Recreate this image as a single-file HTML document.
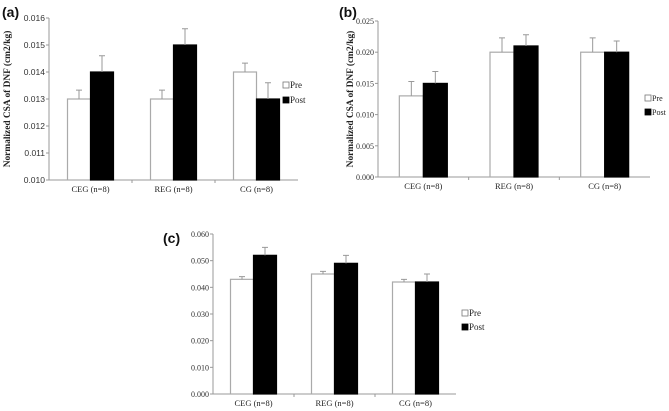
<!DOCTYPE html>
<html><head><meta charset="utf-8"><style>
html,body{margin:0;padding:0;background:#fff;width:669px;height:411px;overflow:hidden}
svg{display:block}
</style></head><body>
<svg id="fig" width="669" height="411" xmlns="http://www.w3.org/2000/svg"></svg>
<script>
const categories = ["CEG (n=8)", "REG (n=8)", "CG (n=8)"];
const seriesNames = ["Pre", "Post"];
const aPre = [0.013, 0.013, 0.014];
const aPost = [0.014, 0.015, 0.013];
const aPreErr = [0.00033, 0.00033, 0.00033];
const aPostErr = [0.0006, 0.0006, 0.0006];
const aTicks = ["0.010","0.011","0.012","0.013","0.014","0.015","0.016"];
const bPre = [0.013, 0.020, 0.020];
const bPost = [0.015, 0.021, 0.020];
const bPreErr = [0.0023, 0.0023, 0.0023];
const bPostErr = [0.0019, 0.0018, 0.0018];
const bTicks = ["0.000","0.005","0.010","0.015","0.020","0.025"];
const cPre = [0.043, 0.045, 0.042];
const cPost = [0.052, 0.049, 0.042];
const cPreErr = [0.001, 0.001, 0.001];
const cPostErr = [0.003, 0.003, 0.003];
const cTicks = ["0.000","0.010","0.020","0.030","0.040","0.050","0.060"];

const NS="http://www.w3.org/2000/svg";
const svg=document.getElementById('fig');
function mk(tag,attrs,parent,text){const e=document.createElementNS(NS,tag);for(const k in attrs)e.setAttribute(k,attrs[k]);if(text!==undefined)e.textContent=text;(parent||svg).appendChild(e);return e;}

function panel(o){
  const g=mk('g',{});
  
  
  const tmin=parseFloat(o.ticks[0]),tmax=parseFloat(o.ticks[o.ticks.length-1]);
  const y=v=>o.y0-(v-tmin)/(tmax-tmin)*(o.y0-o.y1);
  const gw=(o.x1-o.x0)/categories.length;
  const tl=mk('text',{x:o.lx,y:o.ly,'font-family':'Liberation Sans, sans-serif','font-size':14,'font-weight':'bold',fill:'#111'},g,'('+o.id+')');
  
  
  o.ticks.forEach(t=>{
    const v=parseFloat(t),yy=y(v);
    const tt=mk('text',{x:o.x0-4,y:yy+3,'text-anchor':'end','font-family':o.tickFont,'font-size':o.tickSize,fill:'#333'},g,t);
    
    
    mk('line',{x1:o.x0-3,x2:o.x0,y1:yy,y2:yy,stroke:'#999','stroke-width':1},g);
  });
  const ya=mk('line',{x1:o.x0,x2:o.x0,y1:o.y1,y2:o.y0,stroke:'#999','stroke-width':1},g);
  
  
  const xa=mk('line',{x1:o.x0,x2:o.x1,y1:o.y0,y2:o.y0,stroke:'#999','stroke-width':1},g);
  
  
  categories.forEach((c,i)=>{
    const cx=o.x0+(i+0.5)*gw;
    const lab=mk('text',{x:cx,y:o.y0+12,'text-anchor':'middle','font-family':'Liberation Serif, serif','font-size':8.5,fill:'#222'},g,c);
    
    
    if(i>0) mk('line',{x1:o.x0+i*gw,x2:o.x0+i*gw,y1:o.y0,y2:o.y0+3,stroke:'#999'},g);
    [[o.pre,o.preErr,cx-o.bw,'#fff','#aaa','pre'],[o.post,o.postErr,cx,'#000','#000','post']].forEach(s=>{
      const v=s[0][i],top=y(v);
      const r=mk('rect',{x:s[2],y:top,width:o.bw,height:o.y0-top,fill:s[3],stroke:s[4],'stroke-width':1.2},g);
      
      
      const et=y(v+s[1][i]),ex=s[2]+o.bw/2;
      const e=mk('path',{d:`M${ex},${top} V${et} M${ex-3},${et} H${ex+3}`,stroke:'#999','stroke-width':1,fill:'none'},g);
      
      
    });
  });
  seriesNames.forEach((n,k)=>{
    const ly=o.legY+k*o.legGap;
    const sq=mk('rect',{x:o.legX,y:ly-6,width:6,height:6,fill:k?'#000':'#fff',stroke:k?'#000':'#777','stroke-width':0.8},g);
    
    
    const lt=mk('text',{x:o.legX+7,y:ly,'font-family':'Liberation Serif, serif','font-size':o.legSize,fill:'#222'},g,n);
    
    
  });
  if(o.title){
    const cy=(o.y0+o.y1)/2;
    const t=mk('text',{x:o.tx,y:cy,'text-anchor':'middle','font-family':'Liberation Serif, serif','font-size':9.4,'font-weight':'bold',fill:'#222',transform:`rotate(-90 ${o.tx} ${cy})`},g,'Normalized  CSA of DNF (cm2/kg)');
    
    
  }
}
panel({id:'a',x0:49,x1:298,y0:180,y1:18,bw:23,ticks:aTicks,pre:aPre,post:aPost,preErr:aPreErr,postErr:aPostErr,
  tickFont:'Liberation Sans, sans-serif',tickSize:8.5,lx:2,ly:17,legX:283,legY:88,legGap:15,legSize:9,title:true,tx:10});
panel({id:'b',x0:378,x1:650,y0:177,y1:21,bw:24,ticks:bTicks,pre:bPre,post:bPost,preErr:bPreErr,postErr:bPostErr,
  tickFont:'Liberation Serif, serif',tickSize:8,lx:339,ly:17,legX:645,legY:101,legGap:14,legSize:8,title:true,tx:353});
panel({id:'c',x0:213,x1:456,y0:394,y1:234,bw:23,ticks:cTicks,pre:cPre,post:cPost,preErr:cPreErr,postErr:cPostErr,
  tickFont:'Liberation Serif, serif',tickSize:8,lx:163,ly:243,legX:462,legY:316,legGap:14,legSize:9,title:false});
</script>
</body></html>
